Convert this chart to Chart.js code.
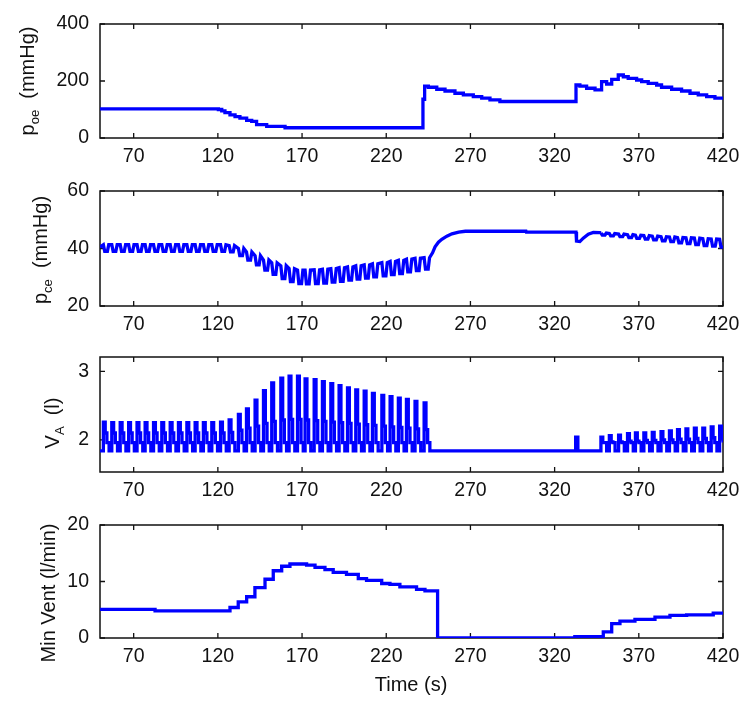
<!DOCTYPE html>
<html><head><meta charset="utf-8">
<script src="https://cdn.jsdelivr.net/npm/chart.js@4.4.1/dist/chart.umd.min.js"></script>
<style>
html,body{margin:0;padding:0;background:#fff;}
#wrap{position:relative;width:750px;height:710px;overflow:hidden;background:#fff;}
#wrap canvas{position:absolute;left:0;}
</style></head><body><div id="wrap">
<canvas id="c1"></canvas><canvas id="c2"></canvas><canvas id="c3"></canvas><canvas id="c4"></canvas>
</div>
<script>
// ---------------- data ----------------
const xTickVals = [70, 120, 170, 220, 270, 320, 370, 420];
const poeTicks = [0, 200, 400];
const pceTicks = [20, 40, 60];
const vaTicks = [2, 3];
const mvTicks = [0, 10, 20];

// p_oe (mmHg), sample-and-hold steps
const poeT = [50,120.3,122.3,124.2,127.2,130.2,133.1,137.1,140.1,143.0,149.0,159.9,
  241.8,242.8,245,250,254.9,260.8,265.8,271.7,276.7,281.6,287.5,
  332.7,335,339,344,
  347.9,350.9,353.9,357.8,360.8,363.7,368.7,371.7,375.6,380.6,383.5,389.5,395.4,400.4,405.3,410.3,415.2,420];
const poeV = [102,100,95,89,81,75,70,62,58,47,41,36,
  136,182,178,171,165,157,151,145,139.6,133.7,128,
  186,182,174.5,168.6,
  197.6,189.5,206,221,215,209.4,203.5,197.6,192,186,178,171,165,157,151,145,139.6,134];

// breath onsets (s), first and second breathing periods
const onset1 = [52,57,62,67,72,76.8,81.8,86.7,91.7,96.6,101.6,106.5,111.4,116.4,121.6,126.7,132.2,137,142.1,147.1,
  152,157.4,162.3,167.3,171.8,177.2,182.1,187.1,192,197,201.9,206.9,211.8,217.4,222.3,227.2,232,237.1,242.5];
const onset2 = [347.5,352.5,358,363.3,368,373,378,383.2,388.2,393,398,403,408,413,418];

// V_A (l): breath peaks and secondary levels
const vaPeak1 = [2.26,2.25,2.25,2.25,2.25,2.25,2.25,2.25,2.25,2.25,2.25,2.25,2.25,2.25,2.26,2.29,2.37,2.45,2.58,2.72,
  2.83,2.90,2.93,2.93,2.89,2.88,2.85,2.82,2.79,2.76,2.73,2.71,2.68,2.65,2.63,2.61,2.59,2.56,2.54];
const vaMid1 = [2.10,2.10,2.10,2.10,2.10,2.10,2.10,2.10,2.10,2.10,2.10,2.10,2.10,2.10,2.10,2.11,2.14,2.17,2.20,2.24,
  2.27,2.29,2.30,2.30,2.29,2.28,2.27,2.26,2.25,2.24,2.23,2.22,2.21,2.20,2.19,2.18,2.17,2.16,2.15];
const vaPeak2 = [2.04,2.06,2.07,2.09,2.10,2.10,2.11,2.12,2.13,2.15,2.16,2.17,2.17,2.19,2.20];
const vaMid2 = [1.96,1.97,1.97,1.98,1.98,1.99,1.99,2.00,2.00,2.01,2.01,2.02,2.02,2.03,2.03];
const vaLevels = [1.84, 1.96];          // resting baseline, end-expiration shoulder
const vaSpikeT = [332.5, 333.8];
const vaSpikeV = [2.04, 1.84];

// p_ce (mmHg): per-breath high / low
const pceHi1 = [41.3,41.3,41.3,41.3,41.3,41.3,41.3,41.3,41.3,41.3,41.3,41.3,41.3,41.3,41.3,41.0,40.0,38.8,37.5,36.0,
  35.0,34.0,33.0,32.5,32.5,32.6,32.8,33.0,33.3,33.6,34.0,34.3,34.7,35.1,35.5,35.9,36.3,36.6,36.8];
const pceLo1 = [39.0,39.0,39.0,39.0,39.0,39.0,39.0,39.0,39.0,39.0,39.0,39.0,39.0,39.0,39.0,38.8,37.5,36.0,34.3,32.5,
  31.0,29.5,28.5,27.8,27.7,27.8,28.0,28.3,28.6,29.0,29.4,29.7,30.1,30.5,30.9,31.3,31.9,32.3,32.8];
const pceHi2 = [45.4,45.2,45.0,44.8,44.6,44.5,44.3,44.1,44.0,43.8,43.7,43.6,43.4,43.3,43.2];
const pceLo2 = [44.7,44.4,44.1,43.8,43.5,43.3,43.0,42.7,42.4,42.0,41.7,41.4,41.0,40.8,40.5];
const pceStartT = [50], pceStartV = [40.5];
const pceMidT = [247.5,249,251,253,256,259,263,267,303,303.2,332.7,333.0,335,337,340,343,347];
const pceMidV = [38.5,40.6,42.2,43.2,44.3,45.1,45.7,46.0,46.0,45.7,45.7,42.6,42.4,43.6,45.0,45.6,45.5];

// Min Vent (l/min), sample-and-hold steps
const mvT = [50,82.7,127.2,132.1,137.1,142.0,148.0,152.9,157.9,162.8,172.7,177.7,183.6,188.5,196.4,203.4,208.3,217.3,222.2,228.1,
  238.0,243.0,250.5,332,348.9,353.9,358.8,367.7,379.6,388.5,398.4,414.2,420];
const mvV = [5.05,4.8,5.4,6.4,7.3,8.9,10.4,11.9,12.7,13.1,12.9,12.5,12.1,11.6,11.25,10.5,10.2,9.65,9.5,9.05,
  8.6,8.35,0,0.25,1.07,2.55,3.0,3.3,3.7,4.0,4.1,4.4,4.4];

// ---------------- build point tables ----------------
const pairs = (T, V) => T.map((t, i) => ({x: t, y: V[i]}));

function vaBreaths(onsets, peaks, mids) {
  const out = [];
  onsets.forEach((t, i) => {
    out.push({x: t, y: peaks[i]});
    out.push({x: t + 1.1, y: mids[i]});
    out.push({x: t + 2.1, y: vaLevels[1]});
    out.push({x: t + 3.4, y: vaLevels[0]});
  });
  return out;
}
function pceBreaths(onsets, hi, lo) {
  const out = [];
  onsets.forEach((t, i) => {
    out.push({x: t, y: hi[i]});
    out.push({x: t + 0.8, y: lo[i]});
    out.push({x: t + 2.4, y: lo[i]});
    out.push({x: t + 3.2, y: hi[i]});
  });
  return out;
}

const poePts = pairs(poeT, poeV);
const vaPts = [{x: 50, y: vaLevels[0]}]
  .concat(vaBreaths(onset1, vaPeak1, vaMid1))
  .concat(pairs(vaSpikeT, vaSpikeV))
  .concat(vaBreaths(onset2, vaPeak2, vaMid2));
const pcePts = pairs(pceStartT, pceStartV)
  .concat(pceBreaths(onset1, pceHi1, pceLo1))
  .concat(pairs(pceMidT, pceMidV))
  .concat(pceBreaths(onset2, pceHi2, pceLo2));
const mvPts = pairs(mvT, mvV);

// ---------------- layout & styles ----------------
const FONT = '"Liberation Sans", Arial, Helvetica, sans-serif';
const TEXT = '#111';
const PAD_TOP = 24, XAX_H = 34, YAX_W = 100, RIGHT_PAD = 27;
Chart.defaults.font.family = FONT;
Chart.defaults.font.size = 19.5;
Chart.defaults.color = TEXT;

const framePlugin = {
  id: 'frame',
  beforeDatasetsDraw(chart) {
    const {ctx, chartArea: a, scales} = chart;
    ctx.save();
    ctx.strokeStyle = '#111';
    ctx.lineWidth = 1.5;
    ctx.strokeRect(a.left, a.top, a.right - a.left, a.bottom - a.top);
    ctx.lineWidth = 1.3;
    const L = 5;
    ctx.beginPath();
    scales.x.ticks.forEach(t => {
      const px = scales.x.getPixelForValue(t.value);
      ctx.moveTo(px, a.bottom); ctx.lineTo(px, a.bottom - L);
      ctx.moveTo(px, a.top); ctx.lineTo(px, a.top + L);
    });
    scales.y.ticks.forEach(t => {
      const py = scales.y.getPixelForValue(t.value);
      ctx.moveTo(a.left, py); ctx.lineTo(a.left + L, py);
      ctx.moveTo(a.right, py); ctx.lineTo(a.right - L, py);
    });
    ctx.stroke();
    ctx.restore();
  }
};

const labelPlugin = {
  id: 'labels',
  afterDraw(chart, args, opts) {
    const ctx = chart.ctx;
    (opts.items || []).forEach(it => {
      ctx.save();
      ctx.translate(it.x, it.y);
      if (it.rot) ctx.rotate(-Math.PI / 2);
      ctx.fillStyle = TEXT;
      ctx.textBaseline = 'alphabetic';
      let total = 0;
      it.parts.forEach(p => {
        ctx.font = (p.sub ? 13 : 20) + 'px ' + FONT;
        total += ctx.measureText(p.t).width;
      });
      let cx = -total / 2;
      it.parts.forEach(p => {
        ctx.font = (p.sub ? 13 : 20) + 'px ' + FONT;
        ctx.fillText(p.t, cx, p.sub ? 5 : 0);
        cx += ctx.measureText(p.t).width;
      });
      ctx.restore();
    });
  }
};

const panels = [
  {id: 'c1', top: 24, bottom: 138, pts: poePts, stepped: true, ymin: 0, ymax: 400, yt: poeTicks,
   labels: [{x: 34, y: 81, rot: true, parts: [{t: 'p'}, {t: 'oe', sub: true}, {t: '  (mmHg)'}]}]},
  {id: 'c2', top: 191, bottom: 306, pts: pcePts, stepped: false, ymin: 20, ymax: 60, yt: pceTicks,
   labels: [{x: 47, y: 250, rot: true, parts: [{t: 'p'}, {t: 'ce', sub: true}, {t: '  (mmHg)'}]}]},
  {id: 'c3', top: 357, bottom: 472, pts: vaPts, stepped: true, ymin: 1.53, ymax: 3.21, yt: vaTicks,
   labels: [{x: 59, y: 423, rot: true, parts: [{t: 'V'}, {t: 'A', sub: true}, {t: '  (l)'}]}]},
  {id: 'c4', top: 525, bottom: 638, pts: mvPts, stepped: true, ymin: 0, ymax: 20, yt: mvTicks,
   labels: [{x: 55, y: 593, rot: true, parts: [{t: 'Min Vent (l/min)'}]},
            {x: 411, y: 691, rot: false, parts: [{t: 'Time (s)'}]}]}
];

panels.forEach((p, idx) => {
  const canvas = document.getElementById(p.id);
  const last = idx === panels.length - 1;
  const canvasTop = p.top - PAD_TOP;
  const bottomPad = last ? (710 - canvasTop) - (PAD_TOP + (p.bottom - p.top) + XAX_H) : 0;
  const h = PAD_TOP + (p.bottom - p.top) + XAX_H + bottomPad;
  canvas.style.top = canvasTop + 'px';
  canvas.width = 750; canvas.height = h;
  canvas.style.width = '750px'; canvas.style.height = h + 'px';
  const items = p.labels.map(l => Object.assign({}, l, {y: l.y - canvasTop}));
  new Chart(canvas, {
    type: 'line',
    data: {datasets: [{
      data: p.pts, borderColor: '#0000ff', borderWidth: 3.3, pointRadius: 0,
      tension: 0, stepped: p.stepped, fill: false, clip: 0, borderJoinStyle: 'miter', borderCapStyle: 'butt'
    }]},
    options: {
      responsive: false, animation: false, devicePixelRatio: 1,
      layout: {padding: {top: PAD_TOP, left: 0, right: RIGHT_PAD, bottom: bottomPad}},
      plugins: {legend: {display: false}, tooltip: {enabled: false}, labels: {items}},
      events: [],
      scales: {
        x: {
          type: 'linear', min: 50, max: 420,
          grid: {display: false, drawTicks: false}, border: {display: false},
          ticks: {padding: 7, autoSkip: false, maxRotation: 0, color: TEXT},
          afterBuildTicks: s => { s.ticks = xTickVals.map(v => ({value: v})); },
          afterFit: s => { s.height = XAX_H; }
        },
        y: {
          type: 'linear', min: p.ymin, max: p.ymax,
          grid: {display: false, drawTicks: false}, border: {display: false},
          ticks: {padding: 11, color: TEXT},
          afterBuildTicks: s => { s.ticks = p.yt.map(v => ({value: v})); },
          afterFit: s => { s.width = YAX_W; }
        }
      }
    },
    plugins: [framePlugin, labelPlugin]
  });
});
</script>
</body></html>
